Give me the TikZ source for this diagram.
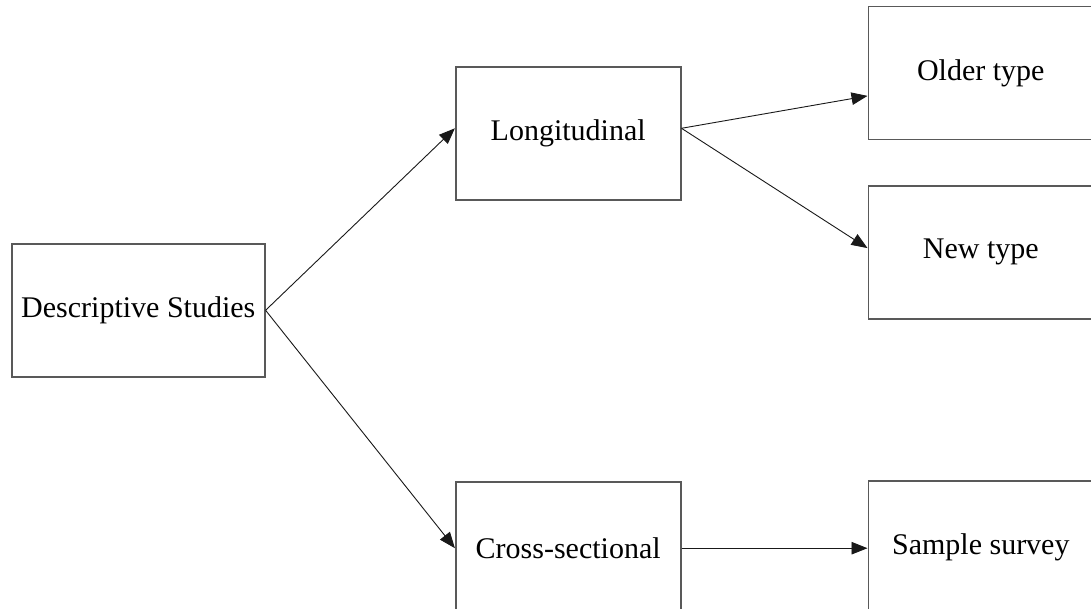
\documentclass[tikz,border=0pt]{standalone}
\usepackage{fontspec}
\setmainfont{Liberation Serif}
\usetikzlibrary{arrows.meta}
\begin{document}
\begin{tikzpicture}[x=1pt, y=-1pt,
  box/.style={draw=black!65, line width=1.6pt, minimum width=225pt,
    minimum height=133pt, inner sep=0pt, font=\fontsize{30}{35}\selectfont},
  link/.style={draw=black!90, line width=0.9pt,
    -{Triangle[length=16pt, width=12.5pt]}}]
\useasboundingbox (0,0) rectangle (1091,609);
\clip (0,0) rectangle (1091,609);
\fill[white] (0,0) rectangle (1091,609);

% boxes
\node[box, minimum width=253pt] (desc) at (138.3,310.3) {Descriptive Studies};
\node[box] (lon) at (568.2,133.8) {Longitudinal};
\node[box] (old) at (980.8,72.9) {Older type};
\node[box] (new) at (980.8,252.4) {New type};
\node[box] (cross) at (568.2,548.2) {Cross-sectional};
\node[box] (samp) at (980.8,547.2) {Sample survey};

% connectors
\draw[link] (desc.east) -- ([yshift=5.5pt]lon.west);
\draw[link] (desc.east) -- (cross.west);
\draw[link] ([yshift=5.5pt]lon.east) -- ([yshift=-23pt]old.west);
\draw[link] ([yshift=5.5pt]lon.east) -- ([yshift=4.3pt]new.west);
\draw[link] (cross.east) -- (cross.east -| samp.west);
\end{tikzpicture}
\end{document}
